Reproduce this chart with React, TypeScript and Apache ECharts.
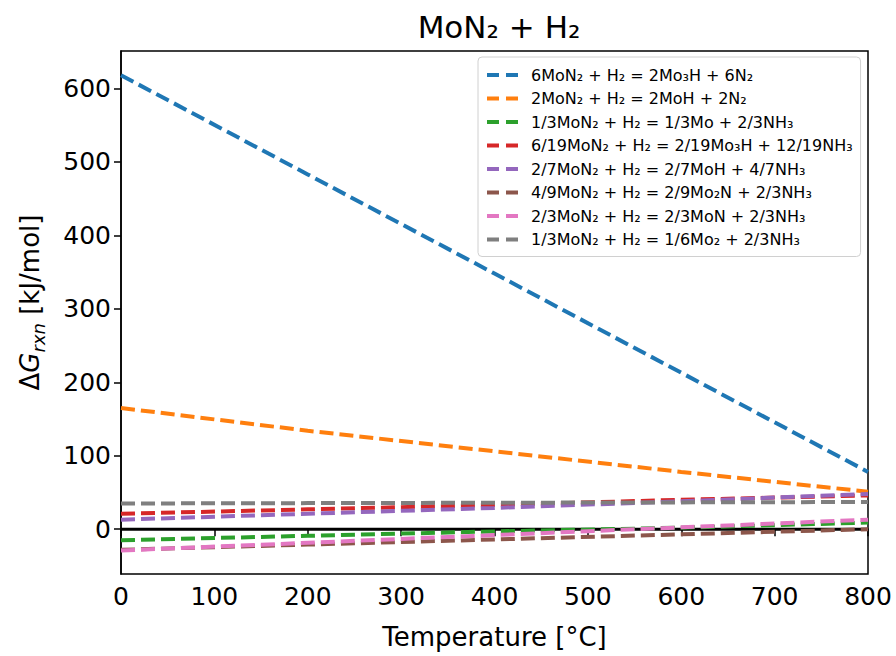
import React, { useEffect, useRef } from "react";
import * as echarts from "echarts";

const temperatures = [0, 200, 400, 600, 800];
const seriesNames = [
  "6MoN₂ + H₂ = 2Mo₃H + 6N₂",
  "2MoN₂ + H₂ = 2MoH + 2N₂",
  "1/3MoN₂ + H₂ = 1/3Mo + 2/3NH₃",
  "6/19MoN₂ + H₂ = 2/19Mo₃H + 12/19NH₃",
  "2/7MoN₂ + H₂ = 2/7MoH + 4/7NH₃",
  "4/9MoN₂ + H₂ = 2/9Mo₂N + 2/3NH₃",
  "2/3MoN₂ + H₂ = 2/3MoN + 2/3NH₃",
  "1/3MoN₂ + H₂ = 1/6Mo₂ + 2/3NH₃",
];
const blueValues = [618, 483, 348, 213, 78];
const orangeValues = [165, 134, 106, 78, 51];
const greenValues = [-15, -9, -3, 2, 9];
const redValues = [21, 27, 33, 40, 46];
const purpleValues = [13, 21, 29, 38, 48];
const brownValues = [-28, -21, -14, -7, 0];
const pinkValues = [-29, -18.5, -8, 2.5, 13];
const grayValues = [35, 35.5, 36, 36.5, 37];
const allValues = [
  blueValues,
  orangeValues,
  greenValues,
  redValues,
  purpleValues,
  brownValues,
  pinkValues,
  grayValues,
];
const colors = [
  "#1f77b4",
  "#ff7f0e",
  "#2ca02c",
  "#d62728",
  "#9467bd",
  "#8c564b",
  "#e377c2",
  "#7f7f7f",
];
const zeroLineX = [0, 800];
const zeroLineY = [0, 0];
const yTickValues = [0, 100, 200, 300, 400, 500, 600];
const xTickValues = [0, 100, 200, 300, 400, 500, 600, 700, 800];

const FONT = "DejaVu Sans";
const DASH_ICON = "path://M0,0 H12 V4 H0 Z M19,0 H31 V4 H19 Z";

export default function App() {
  const ref = useRef<HTMLDivElement>(null);
  useEffect(() => {
    document.body.style.margin = "0";
    if (!ref.current) return;
    const chart = echarts.init(ref.current, null, { renderer: "svg" });
    const lineSeries = seriesNames.map((name, i) => ({
      name,
      type: "line",
      symbol: "none",
      z: 3 + i,
      data: temperatures.map((t, j) => [t, allValues[i][j]]),
      lineStyle: { color: colors[i], width: 4, type: [14, 6] },
      itemStyle: { color: colors[i] },
    }));
    chart.setOption({
      animation: false,
      backgroundColor: "#fff",
      title: {
        text: "MoN₂ + H₂",
        left: 494,
        textAlign: "center",
        top: 6,
        textStyle: { fontFamily: FONT, fontSize: 31, fontWeight: "normal", color: "#000" },
      },
      grid: {
        left: 121,
        right: 28,
        top: 51,
        bottom: 82,
        show: true,
        borderColor: "#000",
        borderWidth: 1.5,
        backgroundColor: "transparent",
      },
      legend: {
        data: seriesNames.map((name) => ({ name, icon: DASH_ICON })),
        orient: "vertical",
        left: 478,
        top: 57,
        width: 380,
        padding: [8, 8, 7, 9],
        itemWidth: 31,
        itemHeight: 4,
        itemGap: 3.5,
        backgroundColor: "#fff",
        borderColor: "#d0d0d0",
        borderWidth: 1,
        borderRadius: 4,
        itemStyle: { borderWidth: 0 },
        textStyle: {
          fontFamily: FONT,
          fontSize: 16,
          color: "#000",
          lineHeight: 20,
          padding: [0, 0, 0, 8],
        },
      },
      xAxis: {
        type: "value",
        min: 0,
        max: 800,
        interval: 100,
        name: "Temperature [°C]",
        nameLocation: "middle",
        nameGap: 50,
        nameTextStyle: { fontFamily: FONT, fontSize: 26, color: "#000" },
        axisLine: { show: true, lineStyle: { color: "#000", width: 1.5 } },
        axisTick: { show: true, length: 7, lineStyle: { color: "#000", width: 1.5 }, customValues: xTickValues },
        axisLabel: { fontFamily: FONT, fontSize: 25, color: "#000", margin: 10, customValues: xTickValues },
        splitLine: { show: false },
      },
      yAxis: {
        type: "value",
        min: -61,
        max: 651,
        name: "{d|Δ}{g|G}{s|rxn}{d| [kJ/mol]}",
        nameLocation: "middle",
        nameRotate: 90,
        nameGap: 78,
        nameTextStyle: {
          fontFamily: FONT,
          fontSize: 26,
          color: "#000",
          padding: [0, 0, 0, 20],
          rich: {
            d: { fontFamily: FONT, fontSize: 26, color: "#000", lineHeight: 30, verticalAlign: "bottom" },
            g: { fontFamily: FONT, fontSize: 26, fontStyle: "italic", color: "#000", lineHeight: 30, verticalAlign: "bottom" },
            s: { fontFamily: FONT, fontSize: 18, fontStyle: "italic", color: "#000", lineHeight: 22, verticalAlign: "bottom", padding: [0, 0, -4, 0] },
          },
        },
        axisLine: { show: true, onZero: false, lineStyle: { color: "#000", width: 1.5 } },
        axisTick: { show: true, length: 7, lineStyle: { color: "#000", width: 1.5 }, customValues: yTickValues },
        axisLabel: { fontFamily: FONT, fontSize: 25, color: "#000", margin: 10, customValues: yTickValues },
        splitLine: { show: false },
      },
      series: [
        {
          name: "zero",
          type: "line",
          symbol: "none",
          z: 2,
          data: zeroLineX.map((x, i) => [x, zeroLineY[i]]),
          lineStyle: { color: "#000", width: 3, type: "solid" },
        },
        ...lineSeries,
      ],
    });
    return () => chart.dispose();
  }, []);
  return <div ref={ref} style={{ width: 896, height: 656 }} />;
}
